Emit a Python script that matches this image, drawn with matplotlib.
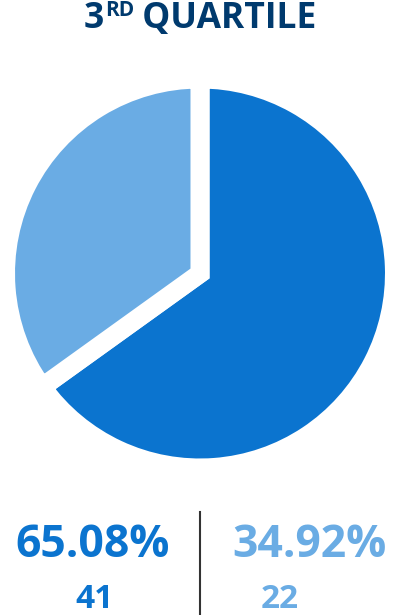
import matplotlib
matplotlib.use("Agg")
import matplotlib.pyplot as plt

# data
labels = ["Group A", "Group B"]
counts = [41, 22]
shares = [65.08, 34.92]
colors = ["#0B74CF", "#6AACE4"]
title_main = "3"
title_sup = "RD"
title_rest = " QUARTILE"

plt.rcParams["font.family"] = ["Open Sans", "DejaVu Sans"]

W, H = 400, 615
fig = plt.figure(figsize=(W / 100, H / 100), dpi=100)

# pie axes: 400x400 px centred on (200, 273.5)
cy = 273.5
ax = fig.add_axes([0, (H - cy - 200) / H, 1, 400 / H])
ax.pie(shares, colors=colors, startangle=90, counterclock=False,
       radius=(185 + 9.5) / 200,
       wedgeprops=dict(edgecolor="white", linewidth=13.7, joinstyle="miter"))
ax.set_xlim(-1, 1)
ax.set_ylim(-1, 1)
ax.set_aspect("equal")
ax.axis("off")

def fy(py):
    return 1 - py / H

navy = "#003A6E"
# title with superscript
t1 = fig.text(0, 0, title_main, fontsize=25.5, fontweight="bold", color=navy)
t2 = fig.text(0, 0, title_sup, fontsize=15, fontweight="bold", color=navy)
t3 = fig.text(0, 0, title_rest, fontsize=25.5, fontweight="bold", color=navy)
fig.canvas.draw()
r = fig.canvas.get_renderer()
w1 = t1.get_window_extent(r).width
w2 = t2.get_window_extent(r).width
w3 = t3.get_window_extent(r).width
x0 = (W - (w1 + w2 + w3)) / 2
base = 27.5
t1.set_position((x0 / W, fy(base)))
t2.set_position(((x0 + w1 + 1) / W, fy(base - 11)))
t3.set_position(((x0 + w1 + w2) / W, fy(base)))

# bottom stats
pct_x = [92.5, 309]
cnt_x = [94, 280]
for i in range(2):
    fig.text(pct_x[i] / W, fy(557), f"{shares[i]:.2f}%", fontsize=32,
             fontweight="bold", color=colors[i], ha="center", va="baseline")
    fig.text(cnt_x[i] / W, fy(608), str(counts[i]), fontsize=24,
             fontweight="bold", color=colors[i], ha="center", va="baseline")

fig.add_artist(plt.Line2D([199.5 / W, 199.5 / W], [fy(512), 0],
                          color="#333333", linewidth=1.5))

fig.savefig("out.png", dpi=100, facecolor="white")
